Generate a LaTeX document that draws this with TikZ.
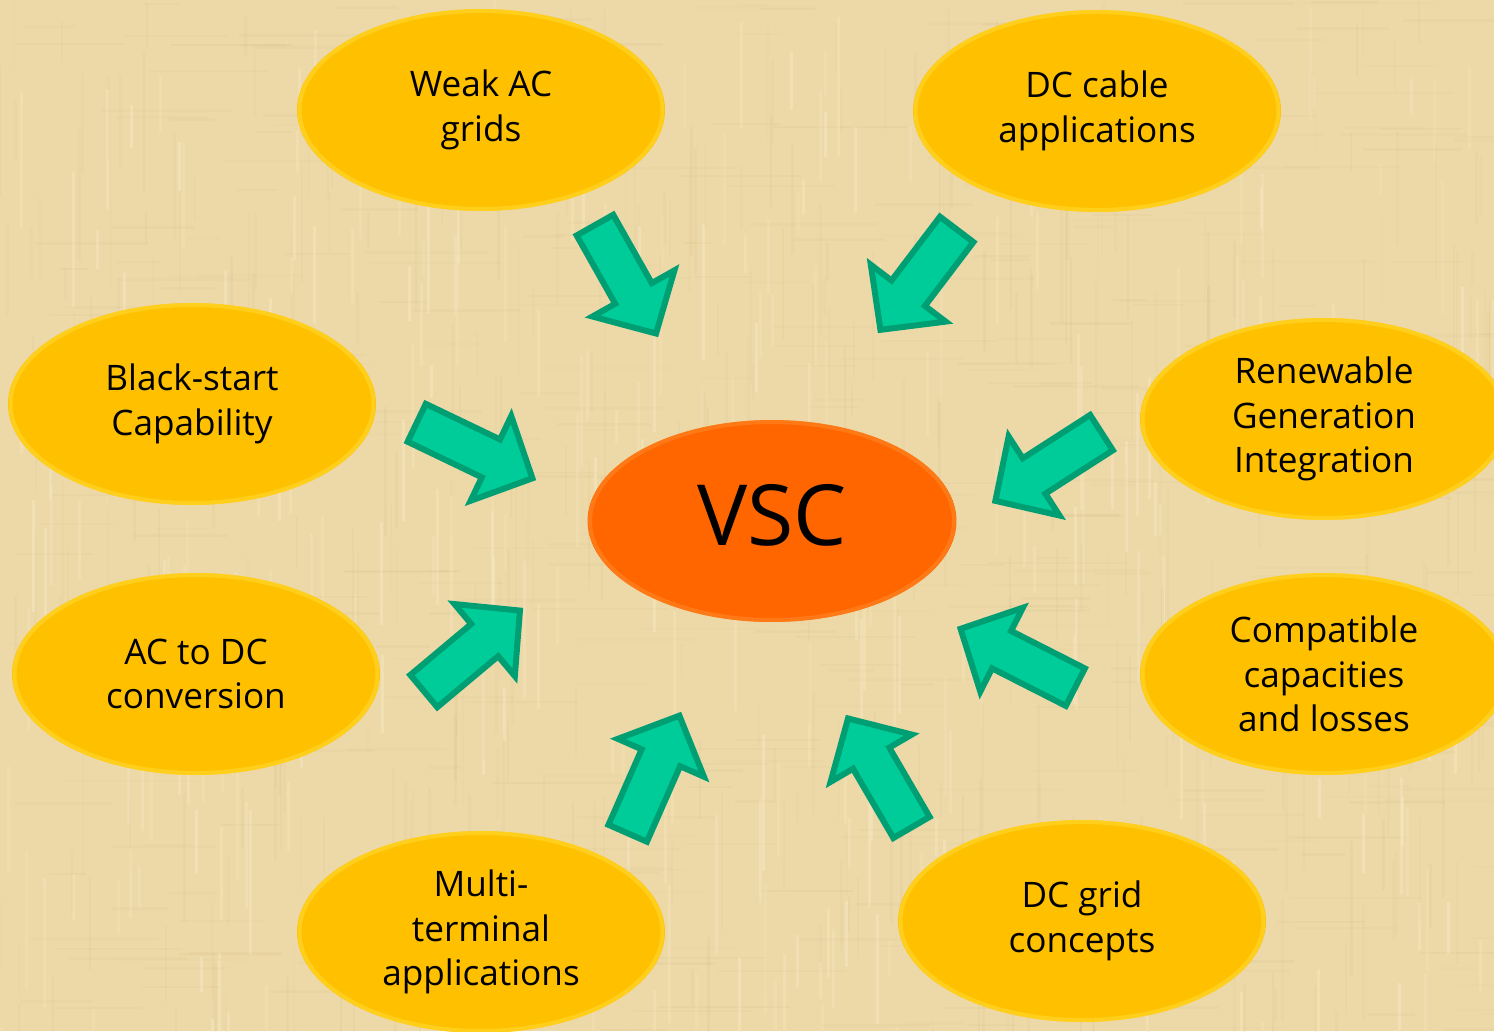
\documentclass[tikz,border=0pt]{standalone}
\usepackage{fontspec}
\setmainfont{Open Sans}
\usetikzlibrary{shapes.geometric,calc}

\definecolor{paper}{HTML}{EDD9A8}
\definecolor{paperdark}{HTML}{C9AE78}
\definecolor{paperlight}{HTML}{FAEDCB}
\definecolor{gold}{HTML}{FFC000}
\definecolor{goldrim}{HTML}{FFDD33}
\definecolor{vscorange}{HTML}{FF6600}
\definecolor{vscrim}{HTML}{FF8A2A}
\definecolor{tealfill}{HTML}{00CC99}
\definecolor{tealedge}{HTML}{009E73}

\tikzset{
  topic/.style={ellipse, fill=gold, inner sep=0pt,
    minimum width=7.36cm, minimum height=4.04cm, align=center,
    font=\fontsize{20}{25.4}\selectfont,
    path picture={\draw[goldrim, line width=0.08cm, opacity=0.55]
      (path picture bounding box.center) ellipse [x radius=3.63cm, y radius=1.98cm];}},
  core/.style={ellipse, fill=vscorange, inner sep=0pt,
    minimum width=7.38cm, minimum height=4.04cm, align=center,
    font=\fontsize{48}{58}\selectfont,
    path picture={\draw[vscrim, line width=0.08cm, opacity=0.55]
      (path picture bounding box.center) ellipse [x radius=3.64cm, y radius=1.98cm];}},
  arrowbody/.style={fill=tealfill, draw=tealedge, line width=0.12cm, line join=miter}
}

% block arrow from the tail coordinate #1 to the tip coordinate #2
\newcommand{\vscarrow}[2]{%
  \path ($(#1)!0.06cm!(#2)$) coordinate (ba-s)
        ($(#2)!0.08cm!(#1)$) coordinate (ba-e);
  \path ($(ba-e)!0.92cm!(ba-s)$) coordinate (ba-h);
  \draw[arrowbody]
    ($(ba-s)!0.42cm!90:(ba-e)$) -- ($(ba-h)!0.42cm!90:(ba-e)$)
    -- ($(ba-h)!0.94cm!90:(ba-e)$) -- (ba-e)
    -- ($(ba-h)!0.94cm!-90:(ba-e)$) -- ($(ba-h)!0.42cm!-90:(ba-e)$)
    -- ($(ba-s)!0.42cm!-90:(ba-e)$) -- cycle;}

\begin{document}
\begin{tikzpicture}[x=0.02cm, y=-0.02cm]
  \useasboundingbox (0,0) rectangle (1494,1031);
  \clip (0,0) rectangle (1494,1031);

  % papyrus-like backdrop
  \fill[paper] (0,0) rectangle (1494,1031);
  \pgfmathsetseed{11}
  \foreach \i in {1,...,420} {
    \pgfmathsetmacro\xx{rnd*1494}
    \pgfmathsetmacro\yy{rnd*1031}
    \pgfmathsetmacro\ll{30+rnd*110}
    \pgfmathsetmacro\op{0.04+rnd*0.08}
    \draw[paperdark, opacity=\op, line width=0.05cm] (\xx,\yy) -- ++(0,\ll);
  }
  \foreach \i in {1,...,420} {
    \pgfmathsetmacro\xx{rnd*1494}
    \pgfmathsetmacro\yy{rnd*1031}
    \pgfmathsetmacro\ll{30+rnd*110}
    \pgfmathsetmacro\op{0.04+rnd*0.08}
    \draw[paperdark, opacity=\op, line width=0.05cm] (\xx,\yy) -- ++(\ll,0);
  }
  \foreach \i in {1,...,300} {
    \pgfmathsetmacro\xx{rnd*1494}
    \pgfmathsetmacro\yy{rnd*1031}
    \pgfmathsetmacro\ll{30+rnd*120}
    \pgfmathsetmacro\op{0.15+rnd*0.25}
    \draw[paperlight, opacity=\op, line width=0.06cm] (\xx,\yy) -- ++(0,\ll);
  }

  % centre and surrounding topics
  \node[core]  (vsc)    at (772,521)  {\raisebox{0.12cm}[\height][\depth]{VSC}};
  \node[topic] (weak)   at (481,110)  {Weak AC\\grids};
  \node[topic] (cable)  at (1097,111) {DC cable\\applications};
  \node[topic] (black)  at (192,404)  {Black-start\\Capability};
  \node[topic] (renew)  at (1324,419) {Renewable\\Generation\\Integration};
  \node[topic] (acdc)   at (196,674)  {AC to DC\\conversion};
  \node[topic] (compat) at (1324,674) {Compatible\\capacities\\and losses};
  \node[topic] (multi)  at (481,932)  {Multi-\\terminal\\applications};
  \node[topic] (dcgrid) at (1082,921) {DC grid\\concepts};

  % arrow tails and tips
  \coordinate (weak-t)   at (593.5,222.5); \coordinate (weak-h)   at (658,337);
  \coordinate (cable-t)  at (958.5,227);   \coordinate (cable-h)  at (878,333);
  \coordinate (black-t)  at (414,421.5);   \coordinate (black-h)  at (536,480);
  \coordinate (renew-t)  at (1104,431);    \coordinate (renew-h)  at (992,503);
  \coordinate (acdc-t)   at (421.5,693);   \coordinate (acdc-h)   at (523,608);
  \coordinate (compat-t) at (1078,688.5);  \coordinate (compat-h) at (957,627);
  \coordinate (multi-t)  at (626.5,836);   \coordinate (multi-h)  at (681,712);
  \coordinate (dcgrid-t) at (913,830);     \coordinate (dcgrid-h) at (846,715);

  \vscarrow{weak-t}{weak-h}
  \vscarrow{cable-t}{cable-h}
  \vscarrow{black-t}{black-h}
  \vscarrow{renew-t}{renew-h}
  \vscarrow{acdc-t}{acdc-h}
  \vscarrow{compat-t}{compat-h}
  \vscarrow{multi-t}{multi-h}
  \vscarrow{dcgrid-t}{dcgrid-h}
\end{tikzpicture}
\end{document}
